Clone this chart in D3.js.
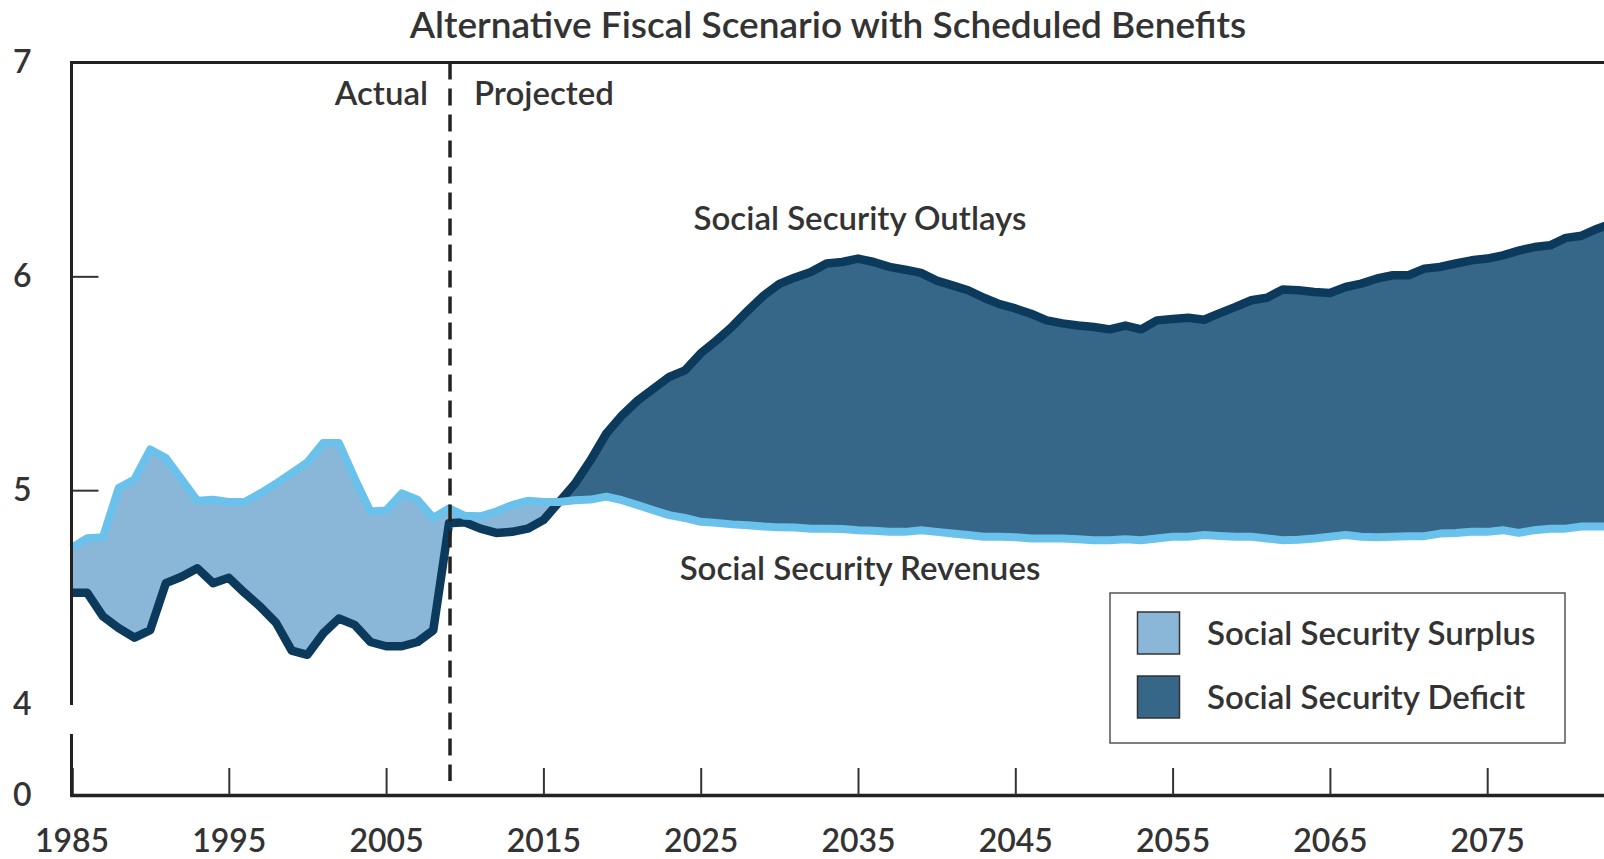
<!DOCTYPE html>
<html>
<head>
<meta charset="utf-8">
<script src="https://cdn.jsdelivr.net/npm/d3@7"></script>
<style>
  html, body { margin: 0; padding: 0; background: #fff; }
  svg { display: block; }
  text { font-family: Lato, "Open Sans", sans-serif; fill: #333; }
</style>
</head>
<body>
<svg id="chart" width="1604" height="859"></svg>
<script>
// ---------------- data ----------------
const startYear = 1985;
const lastActualYear = 2009;
const revenues = [
  4.73, 4.775, 4.78, 5.01, 5.05, 5.19, 5.15, 5.05, 4.95, 4.955, 4.945, 4.945, 4.985, 5.03, 5.08, 5.13, 5.22, 5.22, 5.055, 4.90, 4.905, 4.985, 4.955, 4.87, 4.915,
  4.88, 4.878, 4.90, 4.93, 4.95, 4.945, 4.945, 4.953, 4.956, 4.97, 4.953, 4.93, 4.906, 4.883, 4.87, 4.852, 4.847, 4.84, 4.836, 4.83, 4.826, 4.825, 4.82, 4.82, 4.818,
  4.813, 4.81, 4.805, 4.805, 4.813, 4.805, 4.797, 4.79, 4.782, 4.782, 4.78, 4.774, 4.774, 4.774, 4.77, 4.766, 4.766, 4.77, 4.766, 4.774, 4.782, 4.782, 4.79, 4.786, 4.782,
  4.782, 4.774, 4.766, 4.768, 4.774, 4.782, 4.79, 4.782, 4.78, 4.782, 4.785, 4.785, 4.797, 4.80, 4.805, 4.805, 4.813, 4.80, 4.813, 4.82, 4.82, 4.83, 4.83, 4.83, 4.83, 4.84
];
const outlays = [
  4.52, 4.52, 4.41, 4.355, 4.31, 4.345, 4.565, 4.595, 4.635, 4.565, 4.59, 4.52, 4.455, 4.38, 4.25, 4.23, 4.33, 4.40, 4.37, 4.29, 4.27, 4.27, 4.29, 4.345, 4.845,
  4.85, 4.82, 4.80, 4.805, 4.82, 4.86, 4.945, 5.03, 5.14, 5.265, 5.35, 5.42, 5.475, 5.53, 5.56, 5.64, 5.70, 5.765, 5.84, 5.91, 5.965, 5.995, 6.02, 6.06, 6.067,
  6.083, 6.067, 6.044, 6.031, 6.016, 5.98, 5.958, 5.935, 5.90, 5.87, 5.85, 5.825, 5.794, 5.78, 5.77, 5.763, 5.752, 5.77, 5.752, 5.794, 5.80, 5.806, 5.797, 5.828, 5.857,
  5.888, 5.90, 5.938, 5.935, 5.927, 5.922, 5.95, 5.966, 5.99, 6.005, 6.005, 6.036, 6.044, 6.06, 6.075, 6.083, 6.098, 6.12, 6.137, 6.145, 6.18, 6.19, 6.223, 6.25, 6.27, 6.29
];
const xTickYears = [1985, 1995, 2005, 2015, 2025, 2035, 2045, 2055, 2065, 2075];
const yTickValues = [0, 4, 5, 6, 7];
const titleText = "Alternative Fiscal Scenario with Scheduled Benefits";
const legendItems = ["Social Security Surplus", "Social Security Deficit"];

const data = revenues.map((r, i) => ({ year: startYear + i, rev: r, out: outlays[i] }));

// ---------------- layout ----------------
const svg = d3.select("#chart");
const W = 1604, H = 859;
const colors = {
  surplus: "#8ab7d7",
  deficit: "#366788",
  revLine: "#6ac2ec",
  outLine: "#0c3a5d",
  axis: "#222"
};
const labelSize = 33;

const x = d3.scaleLinear().domain([1985, 2085]).range([71.5, 1644.5]);
const y = d3.scaleLinear().domain([0, 4, 7]).range([795, 704, 62.5]);

// clip paths
const defs = svg.append("defs");
defs.append("clipPath").attr("id", "clipAbove").append("path")
  .attr("d", d3.area().x(d => x(d.year)).y0(0).y1(d => y(d.out))(data));
defs.append("clipPath").attr("id", "clipBelow").append("path")
  .attr("d", d3.area().x(d => x(d.year)).y0(H).y1(d => y(d.out))(data));

const between = d3.area().x(d => x(d.year)).y0(d => y(d.out)).y1(d => y(d.rev));

svg.append("path").attr("d", between(data))
  .attr("fill", colors.surplus).attr("clip-path", "url(#clipAbove)");
svg.append("path").attr("d", between(data))
  .attr("fill", colors.deficit).attr("clip-path", "url(#clipBelow)");

// lines
svg.append("path").datum(data)
  .attr("d", d3.line().x(d => x(d.year)).y(d => y(d.out)))
  .attr("fill", "none").attr("stroke", colors.outLine)
  .attr("stroke-width", 8.5).attr("stroke-linejoin", "round");
svg.append("path").datum(data)
  .attr("d", d3.line().x(d => x(d.year)).y(d => y(d.rev)))
  .attr("fill", "none").attr("stroke", colors.revLine)
  .attr("stroke-width", 8).attr("stroke-linejoin", "round");

// dashed actual/projected divider
svg.append("line")
  .attr("x1", x(lastActualYear) + 1).attr("x2", x(lastActualYear) + 1)
  .attr("y1", y(7)).attr("y2", 781)
  .attr("stroke", "#222").attr("stroke-width", 3.5)
  .attr("stroke-dasharray", "17,9");

// top border
svg.append("line").attr("x1", x(1985)).attr("x2", x(2085))
  .attr("y1", y(7)).attr("y2", y(7))
  .attr("stroke", colors.axis).attr("stroke-width", 3);

// x axis
const xAxis = d3.axisBottom(x).tickValues(xTickYears).tickFormat(d3.format("d"))
  .tickSize(-27).tickPadding(34);
const gx = svg.append("g").attr("transform", `translate(0,${y(0)})`).call(xAxis);
gx.select(".domain").attr("stroke", colors.axis).attr("stroke-width", 3.5);
gx.selectAll(".tick line").attr("stroke", "#333").attr("stroke-width", 2)
  .filter(d => d === 1985).remove();
gx.selectAll(".tick text").attr("font-size", 32).attr("font-weight", 600)
  .attr("font-family", "Lato, sans-serif").attr("fill", "#333");

// y axis with break
const yAxis = d3.axisLeft(y).tickValues(yTickValues).tickFormat(d3.format("d"))
  .tickSize(-27).tickPadding(40);
const gy = svg.append("g").attr("transform", `translate(${x(1985)},0)`).call(yAxis);
gy.select(".domain").remove();
gy.selectAll(".tick line").attr("stroke", "#333").attr("stroke-width", 2)
  .filter(d => d === 0 || d === 4 || d === 7).remove();
gy.selectAll(".tick text").attr("font-size", 32).attr("font-weight", 600)
  .attr("font-family", "Lato, sans-serif").attr("fill", "#333");
gy.append("line").attr("x1", 0).attr("x2", 0).attr("y1", y(7) - 1.5).attr("y2", y(4) + 1)
  .attr("stroke", colors.axis).attr("stroke-width", 3);
gy.append("line").attr("x1", 0).attr("x2", 0).attr("y1", y(4) + 30).attr("y2", y(0) + 1.5)
  .attr("stroke", colors.axis).attr("stroke-width", 3);

// title
svg.append("text").attr("x", 828).attr("y", 38).attr("text-anchor", "middle")
  .attr("font-size", 37).attr("font-weight", 600).text(titleText);

// annotations
svg.append("text").attr("x", 428).attr("y", 105).attr("text-anchor", "end")
  .attr("font-size", labelSize).attr("font-weight", 600).text("Actual");
svg.append("text").attr("x", 474).attr("y", 105).attr("text-anchor", "start")
  .attr("font-size", labelSize).attr("font-weight", 600).text("Projected");
svg.append("text").attr("x", 860).attr("y", 230).attr("text-anchor", "middle")
  .attr("font-size", labelSize).attr("font-weight", 600).text("Social Security Outlays");
svg.append("text").attr("x", 860).attr("y", 580).attr("text-anchor", "middle")
  .attr("font-size", labelSize).attr("font-weight", 600).text("Social Security Revenues");

// legend
const lg = svg.append("g");
lg.append("rect").attr("x", 1110).attr("y", 593).attr("width", 455).attr("height", 150)
  .attr("fill", "#fff").attr("stroke", "#555").attr("stroke-width", 1.5);
const legendColors = [colors.surplus, colors.deficit];
legendItems.forEach((label, i) => {
  const top = 612 + i * 64;
  lg.append("rect").attr("x", 1137.5).attr("y", top).attr("width", 42).attr("height", 42)
    .attr("fill", legendColors[i]).attr("stroke", "#333").attr("stroke-width", 1.5);
  lg.append("text").attr("x", 1207).attr("y", top + 33)
    .attr("font-size", labelSize).attr("font-weight", 600).text(label);
});
</script>
</body>
</html>
